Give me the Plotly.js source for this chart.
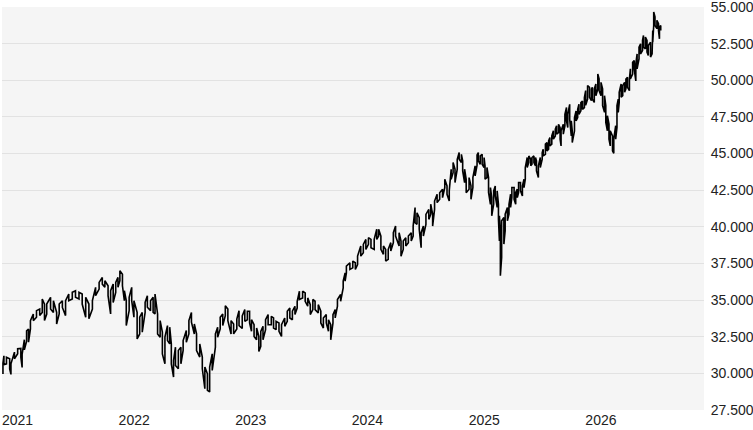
<!DOCTYPE html>
<html>
<head>
<meta charset="utf-8">
<script src="https://cdn.plot.ly/plotly-3.0.1.min.js"></script>
<style>html,body{margin:0;padding:0;background:#fff;}#chart{width:753px;height:430px;}</style>
</head>
<body>
<div id="chart"></div>
<script>
// Sample dates (about every 5-10 days)
const dates = [
"2021-01-04","2021-01-07","2021-01-15","2021-01-25","2021-01-29","2021-02-09","2021-02-19","2021-03-01","2021-03-05","2021-03-12",
"2021-03-19","2021-03-25","2021-03-31","2021-04-09","2021-04-19","2021-04-29","2021-05-07","2021-05-14","2021-05-21","2021-06-02",
"2021-06-11","2021-06-21","2021-06-29","2021-07-09","2021-07-19","2021-07-29","2021-08-09","2021-08-19","2021-08-30","2021-09-09",
"2021-09-20","2021-09-30","2021-10-11","2021-10-21","2021-11-01","2021-11-11","2021-11-19","2021-11-29","2021-12-07","2021-12-15",
"2021-12-23","2021-12-30","2022-01-05","2022-01-13","2022-01-19",
"2022-01-25","2022-02-03","2022-02-11","2022-02-18","2022-02-28","2022-03-08","2022-03-16","2022-03-25","2022-04-01","2022-04-11",
"2022-04-19","2022-04-25","2022-05-03","2022-05-11","2022-05-18","2022-05-26","2022-06-03","2022-06-10","2022-06-15","2022-06-22",
"2022-06-28","2022-07-07","2022-07-15","2022-07-22","2022-08-01","2022-08-09","2022-08-17","2022-08-26","2022-09-02","2022-09-12",
"2022-09-20","2022-09-28","2022-10-06","2022-10-13","2022-10-21","2022-10-31","2022-11-07","2022-11-15","2022-11-23","2022-12-01",
"2022-12-09","2022-12-19","2022-12-27","2023-01-06","2023-01-13","2023-01-23",
"2023-01-31","2023-02-08","2023-02-15","2023-02-21","2023-03-01","2023-03-09","2023-03-16","2023-03-22","2023-03-29","2023-04-06",
"2023-04-14","2023-04-24","2023-05-01","2023-05-09","2023-05-18","2023-05-26","2023-06-05","2023-06-13","2023-06-21","2023-06-29",
"2023-07-07","2023-07-14","2023-07-21","2023-07-31","2023-08-08","2023-08-16","2023-08-24","2023-09-01","2023-09-08","2023-09-18",
"2023-09-26","2023-10-04","2023-10-13","2023-10-20","2023-10-27","2023-11-03","2023-11-10","2023-11-17","2023-11-27","2023-12-05",
"2023-12-11","2023-12-15","2023-12-26","2024-01-04","2024-01-12","2024-01-19",
"2024-01-29","2024-02-06","2024-02-14","2024-02-22","2024-03-01","2024-03-11","2024-03-19","2024-03-25","2024-04-01","2024-04-09",
"2024-04-16","2024-04-24","2024-05-02","2024-05-10","2024-05-17","2024-05-28","2024-06-03","2024-06-10","2024-06-18","2024-06-26",
"2024-07-05","2024-07-11","2024-07-17","2024-07-23","2024-07-30","2024-08-05","2024-08-12","2024-08-20","2024-08-29","2024-09-04",
"2024-09-10","2024-09-16","2024-09-24","2024-10-02","2024-10-11","2024-10-18","2024-10-25","2024-11-01","2024-11-07","2024-11-13",
"2024-11-19","2024-11-26","2024-12-02","2024-12-09","2024-12-13","2024-12-19","2024-12-24","2025-01-02","2025-01-08","2025-01-14",
"2025-01-21","2025-01-27",
"2025-01-31","2025-02-06","2025-02-12","2025-02-18","2025-02-21","2025-02-27","2025-03-04","2025-03-10","2025-03-14","2025-03-20",
"2025-03-25","2025-03-31","2025-04-04","2025-04-07","2025-04-10","2025-04-14","2025-04-21","2025-04-25","2025-05-02","2025-05-07",
"2025-05-12","2025-05-16","2025-05-23","2025-05-28","2025-06-02","2025-06-06","2025-06-12","2025-06-18","2025-06-23","2025-06-27",
"2025-07-03","2025-07-08","2025-07-14","2025-07-18","2025-07-24","2025-07-29","2025-08-01","2025-08-07","2025-08-13","2025-08-19",
"2025-08-22","2025-08-29","2025-09-03","2025-09-08","2025-09-12","2025-09-18","2025-09-23","2025-09-29","2025-10-03","2025-10-09",
"2025-10-14","2025-10-17","2025-10-24","2025-10-29","2025-11-03","2025-11-07","2025-11-13","2025-11-18","2025-11-21","2025-11-28",
"2025-12-03","2025-12-08","2025-12-12","2025-12-18","2025-12-23","2025-12-29",
"2026-01-02","2026-01-08","2026-01-14","2026-01-20","2026-01-23","2026-01-29","2026-02-03","2026-02-09","2026-02-13","2026-02-19",
"2026-02-24","2026-03-02","2026-03-06","2026-03-11","2026-03-16","2026-03-20","2026-03-27","2026-03-31","2026-04-06","2026-04-10",
"2026-04-14","2026-04-17","2026-04-23","2026-04-28","2026-05-04","2026-05-08","2026-05-13","2026-05-19","2026-05-22","2026-05-29",
"2026-06-03","2026-06-08","2026-06-12","2026-06-18","2026-06-23","2026-06-29","2026-07-02","2026-07-08","2026-07-13","2026-07-17",
"2026-07-24","2026-07-29","2026-07-31","2026-08-03","2026-08-07","2026-08-13","2026-08-18","2026-08-21","2026-08-25"
];

// Upper edge of the price range at each sample date (highs)
const highs = [
30700,31200,31100,31000,30650,31450,31680,31700,31300,32300,
32900,33030,33600,34050,34280,34390,35070,34730,34730,35190,
34960,34160,34730,34960,34960,35410,35530,35640,35530,35410,
35190,34730,34960,35870,36210,36550,36320,35980,35640,36090,
36210,36550,37000,36770,35640,
34960,35190,35870,34960,34160,33830,34160,34850,35300,34960,
35190,35410,34050,33600,32810,32470,33260,33150,32010,30880,
31790,31560,31790,32240,32920,33600,34160,33370,32690,32010,
31110,30430,29970,30430,31330,32690,33150,33830,34050,34620,
34390,33600,33370,33710,34280,33920,
34350,34240,34240,33660,33320,33090,32520,32870,33210,33660,
34010,33890,33780,33550,33440,33320,33780,34240,34460,34240,
34580,34920,35610,35610,35490,35150,34690,35040,34920,34690,
34240,33780,34010,33660,33320,34010,34350,35040,35380,36290,
36860,37320,37550,37660,37550,38000,
38690,38800,39140,39260,39140,39140,39830,39830,39370,38690,
38460,38460,38920,39600,40050,39600,39030,39030,39260,39370,
39600,40050,41310,40960,40620,39600,40050,40850,41190,41540,
40850,41760,42220,42330,42560,43250,42790,42450,43930,44390,
43930,44610,45070,44950,44500,43930,43250,43360,42790,43360,
44160,44900,
45070,44840,44950,44730,44160,44050,43360,42680,42000,42450,
42790,42450,41540,40750,39730,40410,40640,40860,41320,41540,
42230,42680,42680,42340,42570,43020,43020,42790,43250,44050,
44730,44840,44610,44730,44840,44730,44500,44160,44730,45070,
45300,45640,45750,45860,46090,46200,46550,46660,46890,47000,
46770,46550,47000,47680,48140,47680,48360,47230,46550,47450,
47910,48020,48360,48480,48590,48820,
49300,49640,49520,49410,49520,49410,49750,50430,50090,49860,
49410,48950,48270,47580,47010,46550,46210,45980,46900,48270,
48720,49180,49750,49640,49860,50090,50210,50090,50780,51230,
51350,51120,51800,52260,52490,52720,53060,52950,52720,52370,
52600,53060,53400,54660,54320,54090,53860,53630,53740
];

// Lower edge of the price range at each sample date (lows)
const lows = [
29950,30600,30650,30310,29930,30990,31340,31100,30400,31600,
32200,32130,33030,33600,33830,33940,34160,33600,34050,34390,
34160,33370,34050,34500,33940,34960,35070,35190,35070,34730,
33830,33720,34390,35300,35750,36090,35870,35300,34050,34840,
35530,35870,36320,35980,34960,
33260,34280,34960,33830,32350,32690,32810,34160,34510,34280,
34160,34050,32690,32470,31330,30650,32240,32010,30650,29750,
30540,30310,30650,31560,32130,32690,33490,32690,31560,31110,
30310,28950,28840,28730,30200,31790,32470,33030,33260,33940,
33600,32690,32690,33030,33260,33060,
33550,33660,33440,32870,32520,32290,31500,31840,32290,32980,
33320,33320,33090,32980,32870,32520,33210,33550,33780,33660,
34010,34460,35040,35150,34920,34580,34010,34350,34350,34120,
33440,33090,33440,32870,32290,33440,33780,34580,34920,35830,
36290,36860,37090,37200,37090,37430,
38000,38230,38460,38800,38570,38460,39140,39370,38460,38120,
37660,37780,38350,38920,39370,38690,38000,38460,38690,38920,
39030,39370,40280,40170,39830,38570,39370,40170,40510,40850,
40050,41190,41650,41880,41990,42680,42220,41760,43250,43700,
43020,43930,44610,44390,43810,43020,42330,42560,41880,42680,
43470,44200,
44500,44270,44270,44050,43250,43360,42340,41540,40750,41540,
42110,41320,40520,39040,36660,37910,38820,39730,40410,40860,
41320,42000,41880,41540,42000,42340,42450,42110,42680,43250,
44050,44390,44160,44270,44390,44160,43820,43360,44050,44610,
44840,44950,45180,45300,45520,45640,45980,46200,46320,46430,
45980,45520,46320,46890,47230,46770,47340,46200,45750,46550,
47230,47450,47680,47910,48020,48140,
48300,48720,48840,48610,48720,48490,48950,49410,49290,48950,
48270,47810,47120,46550,45980,45520,45180,45020,45980,46780,
47810,48490,48840,48950,49180,49410,49520,49290,50090,50430,
50780,49950,50780,51460,51800,52030,52260,52150,51920,51690,
51580,51800,52600,53740,53740,53520,53400,52830,53400
];

// Axis ticks
const yearTickDates = ["2021-01-01","2022-01-01","2023-01-01","2024-01-01","2025-01-01","2026-01-01"];
const yearTickLabels = ["2021","2022","2023","2024","2025","2026"];
const yTickStep = 2500;
const yRange = [27500, 55000];
const xRange = ["2021-01-01", "2027-01-07 10:00"];

// Build a continuous path: at each date a vertical stroke spanning low..high,
// alternating direction so consecutive strokes join along the envelope.
const pathX = [], pathY = [];
dates.forEach((d, i) => {
  if (i % 2 === 0) { pathX.push(d, d); pathY.push(lows[i], highs[i]); }
  else { pathX.push(d, d); pathY.push(highs[i], lows[i]); }
});

const font = {family: "Liberation Sans, Arial, sans-serif", size: 14, color: "#222"};

const traces = [
  {
    type: "scatter", mode: "lines", x: pathX, y: pathY, name: "Range",
    line: {color: "#000", width: 1.6}, hoverinfo: "skip", showlegend: false
  }
];

const layout = {
  width: 753, height: 430,
  margin: {l: 2, r: 49, t: 7, b: 20, pad: 0},
  paper_bgcolor: "#ffffff",
  plot_bgcolor: "#f5f5f5",
  separators: ",.",
  font: font,
  showlegend: false,
  hovermode: false,
  xaxis: {
    type: "date", range: xRange,
    tickmode: "array", tickvals: yearTickDates, ticktext: yearTickLabels,
    ticklabelposition: "outside right",
    showgrid: false, zeroline: false, showline: false, ticks: "",
    tickfont: font, fixedrange: true
  },
  yaxis: {
    side: "right", range: yRange, tick0: 0, dtick: yTickStep,
    tickformat: ",.0f", showgrid: true, gridcolor: "#e2e2e2", gridwidth: 1,
    zeroline: false, showline: false, ticks: "outside", ticklen: 3, tickcolor: "rgba(0,0,0,0)",
    ticklabeloverflow: "allow",
    tickfont: font, fixedrange: true
  }
};

Plotly.newPlot("chart", traces, layout, {displayModeBar: false, staticPlot: true});
</script>
</body>
</html>
